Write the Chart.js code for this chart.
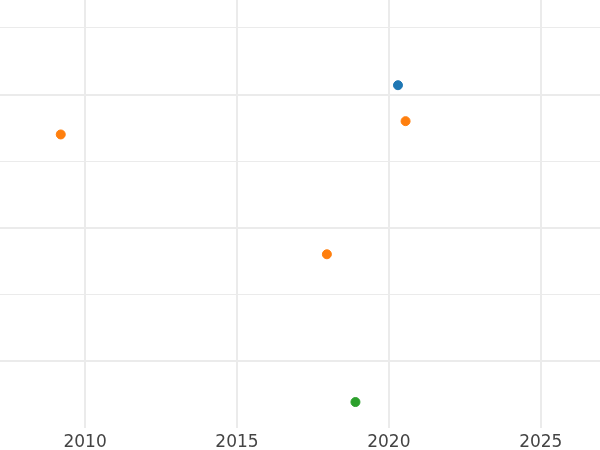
<!DOCTYPE html>
<html>
<head>
<meta charset="utf-8">
<script src="https://cdn.jsdelivr.net/npm/chart.js@4"></script>
<style>
    html, body { margin: 0; padding: 0; background: #ffffff; }
    #scatterChart { display: block; }
</style>
</head>
<body>
<canvas id="scatterChart" width="600" height="450"></canvas>
<script>
//Chart data
const seriesNames = ['blue', 'orange', 'green'];
const blueYears = [2020.3];
const blueValues = [2.07];
const orangeYears = [2009.2, 2020.55, 2017.96];
const orangeValues = [1.70, 1.80, 0.80];
const greenYears = [2018.9];
const greenValues = [-0.31];
const xTicks = [2010, 2015, 2020, 2025];
const yTicks = [0, 0.5, 1, 1.5, 2, 2.5];

function toPoints(xs, ys) {
    return xs.map((x, i) => ({ x: x, y: ys[i] }));
}

//Generate Scatter
const scatter = document.getElementById("scatterChart").getContext("2d");
let scatterChart = new Chart(scatter, {
    type: 'scatter',
    data: {
        datasets: [{
            label: seriesNames[0],
            data: toPoints(blueYears, blueValues),
            backgroundColor: '#1f77b4',
            borderColor: '#1f77b4',
            pointRadius: 4.5
        }, {
            label: seriesNames[1],
            data: toPoints(orangeYears, orangeValues),
            backgroundColor: '#ff7f0e',
            borderColor: '#ff7f0e',
            pointRadius: 4.5
        }, {
            label: seriesNames[2],
            data: toPoints(greenYears, greenValues),
            backgroundColor: '#2ca02c',
            borderColor: '#2ca02c',
            pointRadius: 4.5
        }]
    },
    options: {
        responsive: false,
        animation: false,
        layout: { padding: 0, autoPadding: false },
        plugins: {
            legend: { display: false },
            tooltip: { enabled: false }
        },
        scales: {
            x: {
                type: 'linear',
                min: 2007.2,
                max: 2026.95,
                afterBuildTicks: axis => { axis.ticks = xTicks.map(v => ({ value: v })); },
                afterFit: axis => { axis.height = 22; },
                border: { display: false },
                grid: { color: '#ebebeb', lineWidth: 2, drawTicks: false },
                ticks: {
                    color: '#444444',
                    padding: 4,
                    font: { family: 'DejaVu Sans', size: 17 },
                    callback: v => String(v)
                }
            },
            y: {
                type: 'linear',
                min: -0.505,
                max: 2.71,
                afterBuildTicks: axis => { axis.ticks = yTicks.map(v => ({ value: v })); },
                border: { display: false },
                grid: {
                    color: '#ebebeb',
                    drawTicks: false,
                    lineWidth: ctx => (ctx.tick && ctx.tick.value % 1 === 0) ? 2 : 1
                },
                ticks: { display: false }
            }
        }
    }
});
</script>
</body>
</html>
